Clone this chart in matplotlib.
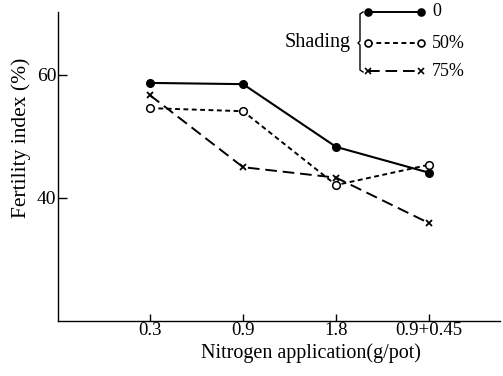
import matplotlib
matplotlib.use("Agg")
import matplotlib.pyplot as plt
from matplotlib.lines import Line2D

# Dados
tratamentos = ["0.3", "0.9", "1.8", "0.9+0.45"]
posicoes = [1, 2, 3, 4]
sombra_0 = [58.7, 58.5, 48.3, 44.1]
sombra_50 = [54.6, 54.1, 42.1, 45.4]
sombra_75 = [56.7, 45.0, 43.3, 35.9]
rotulos_legenda = ["0", "50%", "75%"]

plt.rcParams["font.family"] = ["Liberation Serif", "DejaVu Serif"]

fig = plt.figure(figsize=(5.03, 3.76), dpi=100)
ax = fig.add_axes([0.1153, 0.1463, 0.879, 0.822])

# Séries
ax.plot(posicoes, sombra_0, "-", color="black", lw=1.5, marker="o", ms=5.5,
        mfc="black", mec="black", clip_on=False)
ax.plot(posicoes, sombra_50, color="black", lw=1.4, ls=(0, (2.5, 1.8)), marker="o", ms=5.5,
        mfc="white", mec="black", mew=1.1, clip_on=False)
ax.plot(posicoes, sombra_75, color="black", lw=1.4, ls=(0, (6, 3)), marker="x", ms=5,
        mec="black", mew=1.3, clip_on=False)

# Eixos
ax.set_xlim(0.011, 4.763)
ax.set_ylim(20, 70.24)
ax.set_xticks(posicoes)
ax.set_xticklabels(tratamentos, fontsize=13.5)
ax.set_yticks([40, 60])
ax.tick_params(axis="y", direction="in", length=6.5, width=1, pad=1, labelsize=14)
ax.tick_params(axis="x", direction="in", length=5, width=1, pad=1)
ax.spines["top"].set_visible(False)
ax.spines["right"].set_visible(False)
ax.spines["left"].set_linewidth(1)
ax.spines["bottom"].set_linewidth(1)

ax.set_xlabel("Nitrogen application(g/pot)", fontsize=14.5)
ax.set_ylabel("Fertility index (%)", fontsize=15.5)
ax.yaxis.set_label_coords(-0.061, 0.592)
ax.xaxis.set_label_coords(0.572, -0.071)

# Legenda desenhada à mão (coordenadas da figura)
def px(x, y):
    return x / 503, 1 - y / 376

estilos = [
    dict(ls="-", marker="o", mfc="black"),
    dict(ls=(0, (2.5, 1.8)), marker="o", mfc="white"),
    dict(ls=(0, (6, 3)), marker="x", mfc="black"),
]
ys = [12, 43, 71]
for estilo, y, rotulo in zip(estilos, ys, rotulos_legenda):
    (x0, y0), (x1, _) = px(368, y), px(421, y)
    fig.add_artist(Line2D([x0, x1], [y0, y0], color="black", lw=1.4, ls=estilo["ls"],
                          marker=estilo["marker"], ms=5, mfc=estilo["mfc"], mec="black", mew=1.2))
    fig.text(*px(432, y), rotulo, fontsize=13, va="center", ha="left")

# Chave "{"
xb = [363, 360, 360, 358, 360, 360, 363]
yb = [12, 14, 41, 43, 45, 70, 72]
fig.add_artist(Line2D([x / 503 for x in xb], [1 - y / 376 for y in yb], color="black", lw=1))
fig.text(*px(351, 43), "Shading", fontsize=14.5, va="center", ha="right")

plt.savefig("out.png", dpi=100)
plt.close()
